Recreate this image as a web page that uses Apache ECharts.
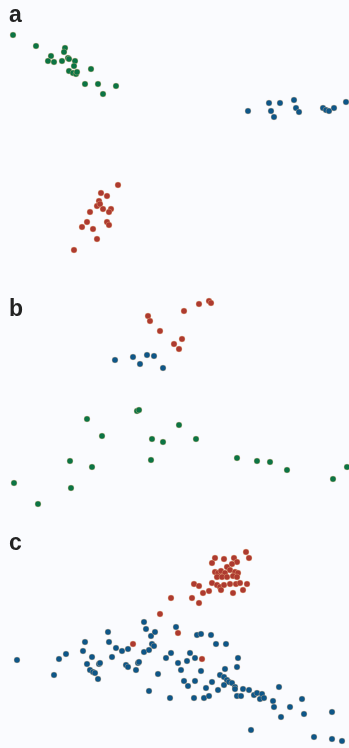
<!DOCTYPE html>
<html><head><meta charset="utf-8">
<script src="https://cdn.jsdelivr.net/npm/echarts@6/dist/echarts.min.js"></script>
<style>html,body{margin:0;padding:0;background:#fafbfe}#c{width:349px;height:748px}</style>
</head><body><div id="c"></div>
<script>
var panelLabels = ['a', 'b', 'c'];
var panelLabelY = [17, 311, 545];

var aGreen = [[13,35],[36,46],[65,48],[64,52],[51,56],[48,61],[54,62],[62,61],[68,58],[69,59],[75,61],[74,66],[69,71],[73,73],[76,74],[77,72],[91,69],[85,84],[98,84],[103,94],[116,86]];
var aBlue = [[248,111],[269,103],[271,111],[274,117],[280,103],[294,100],[296,108],[299,112],[323,108],[326,110],[329,111],[334,108],[346,102]];
var aRed = [[118,185],[101,193],[107,196],[99,201],[97,206],[100,204],[103,209],[111,209],[109,212],[90,212],[87,222],[82,227],[107,222],[109,225],[93,229],[97,239],[74,250]];

var bRed = [[209,301],[211,303],[199,304],[184,311],[148,316],[150,321],[160,331],[182,339],[174,344],[179,349]];
var bBlue = [[115,360],[133,357],[140,364],[147,355],[154,356],[163,368]];
var bGreen = [[137,411],[139,410],[87,419],[102,436],[152,439],[163,442],[70,461],[92,467],[151,460],[14,483],[71,488],[38,504],[179,425],[196,439],[237,458],[257,461],[270,462],[287,470],[333,479],[347,467]];

var cRed = [[246,552],[249,558],[215,558],[224,559],[234,558],[237,562],[212,563],[232,564],[227,567],[215,572],[218,573],[221,571],[225,573],[230,570],[235,572],[238,573],[217,577],[222,577],[227,577],[233,576],[237,577],[212,583],[217,585],[220,587],[224,585],[230,584],[236,584],[240,583],[247,584],[243,590],[233,593],[221,590],[194,584],[199,586],[203,593],[209,591],[192,598],[199,603],[171,598],[160,614],[133,644],[178,633],[202,659]];
var cBlue = [[17,660],[54,675],[59,659],[66,654],[85,642],[83,651],[87,664],[92,657],[90,670],[93,672],[95,673],[98,679],[99,664],[100,663],[108,632],[109,642],[116,648],[112,657],[122,651],[128,649],[126,665],[128,667],[136,670],[138,663],[139,662],[144,622],[146,629],[151,636],[155,632],[152,644],[154,646],[144,652],[149,650],[166,658],[171,653],[158,674],[149,691],[170,698],[176,627],[197,635],[201,634],[211,635],[216,644],[226,644],[190,653],[195,658],[187,661],[178,663],[181,670],[201,671],[238,658],[237,667],[225,669],[220,675],[224,677],[227,680],[229,682],[232,683],[224,685],[235,687],[184,681],[188,686],[195,681],[212,682],[206,688],[218,690],[235,689],[237,696],[241,696],[243,689],[249,690],[254,695],[257,693],[262,694],[260,699],[264,698],[194,698],[204,698],[209,696],[279,687],[273,701],[274,707],[290,707],[302,699],[281,717],[304,714],[332,712],[251,730],[314,737],[332,739],[342,741]];

var GREEN = '#0b7444', BLUE = '#0e5688', RED = '#ad3a30';
function sc(data, color) {
  return {
    type: 'scatter', data: data, symbolSize: 6, silent: true,
    itemStyle: { color: color, opacity: 1, borderColor: 'rgba(235,185,135,0.45)', borderWidth: 0.8 }
  };
}
var chart = echarts.init(document.getElementById('c'));
chart.setOption({
  backgroundColor: '#fafbfe',
  animation: false,
  grid: { left: 0, right: 0, top: 0, bottom: 0 },
  xAxis: { type: 'value', min: 0, max: 349, show: false },
  yAxis: { type: 'value', min: 0, max: 748, inverse: true, show: false },
  series: [sc(aGreen, GREEN), sc(aBlue, BLUE), sc(aRed, RED),
           sc(bRed, RED), sc(bBlue, BLUE), sc(bGreen, GREEN),
           sc(cRed, RED), sc(cBlue, BLUE)],
  graphic: panelLabels.map(function (t, i) {
    return { type: 'text', left: 9, top: panelLabelY[i] - 13,
      style: { text: t, fontFamily: 'Liberation Sans, Arial, sans-serif', fontWeight: 'bold', fontSize: 23, fill: '#222' } };
  })
});
</script></body></html>
